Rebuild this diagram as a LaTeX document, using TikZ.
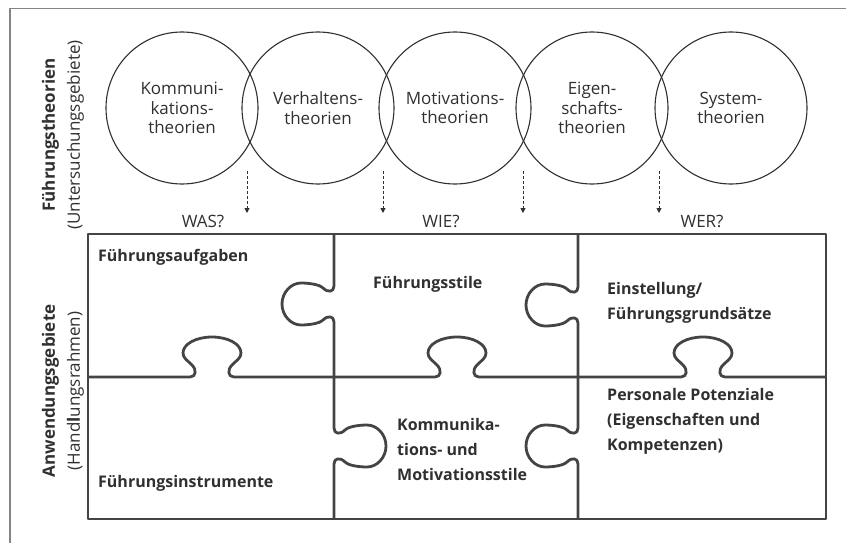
\documentclass[tikz,border=0pt]{standalone}
\usepackage{fontspec}
\setmainfont{Open Sans}
\usepackage{xcolor}
\usepackage{tikz}
\usetikzlibrary{arrows.meta}

\definecolor{ink}{HTML}{303030}
\definecolor{edge}{HTML}{444444}
\definecolor{rim}{HTML}{858585}

% jigsaw tab on a horizontal line, bulging upwards
\newcommand{\htab}[2]{%
  -- ({#1-22},#2)
  .. controls ({#1-16},#2) and ({#1-15},{#2-7}) .. ({#1-20},{#2-12})
  .. controls ({#1-25},{#2-17}) and ({#1-29},{#2-19}) .. ({#1-29},{#2-24})
  .. controls ({#1-29},{#2-33}) and ({#1-16},{#2-40}) .. (#1,{#2-40})
  .. controls ({#1+16},{#2-40}) and ({#1+29},{#2-33}) .. ({#1+29},{#2-24})
  .. controls ({#1+29},{#2-19}) and ({#1+25},{#2-17}) .. ({#1+20},{#2-12})
  .. controls ({#1+15},{#2-7}) and ({#1+16},#2) .. ({#1+22},#2)}

% jigsaw tab on a vertical line, #3 = -1 bulges left, 1 bulges right
\newcommand{\vtab}[3]{%
  -- (#1,{#2-18})
  .. controls (#1,{#2-12}) and ({#1+6*(#3)},{#2-11}) .. ({#1+11*(#3)},{#2-16})
  .. controls ({#1+15*(#3)},{#2-20}) and ({#1+27*(#3)},{#2-21}) .. ({#1+33*(#3)},{#2-21})
  .. controls ({#1+43*(#3)},{#2-21}) and ({#1+52*(#3)},{#2-11.5}) .. ({#1+52*(#3)},#2)
  .. controls ({#1+52*(#3)},{#2+11.5}) and ({#1+43*(#3)},{#2+21}) .. ({#1+33*(#3)},{#2+21})
  .. controls ({#1+27*(#3)},{#2+21}) and ({#1+15*(#3)},{#2+20}) .. ({#1+11*(#3)},{#2+16})
  .. controls ({#1+6*(#3)},{#2+11}) and (#1,{#2+12}) .. (#1,{#2+18})}

\begin{document}
\begin{tikzpicture}[x=1pt, y=-1pt,
  theory/.style={circle, draw=ink, line width=1.1pt, minimum size=152pt, inner sep=0pt, align=center, text=ink, font=\fontsize{17}{19.5}\selectfont},
  piecetext/.style={anchor=west, align=left, inner sep=0pt, text=ink, font=\bfseries\fontsize{16}{25}\selectfont},
  question/.style={text=ink, font=\fontsize{17}{20}\selectfont},
  side/.style={rotate=90, align=center, text=ink, font=\fontsize{17}{25}\selectfont},
  hint/.style={draw=ink, line width=0.9pt, dash pattern=on 3pt off 2pt, -{Triangle[length=5pt, width=5pt]}},
  piece/.style={draw=edge, line width=2.8pt, line join=round}]
\useasboundingbox (0,0) rectangle (846,543);
\draw[rim, line width=1.3pt] (10,543) -- (10,8.5) -- (846,8.5);

% theories
\node[theory] (komm) at (182,108) {Kommuni-\\kations-\\theorien};
\node[theory] (verh) at (318,108) {Verhaltens-\\theorien};
\node[theory] (moti) at (455,108) {Motivations-\\theorien};
\node[theory] (eig) at (592,108) {Eigen-\\schafts-\\theorien};
\node[theory] (sys) at (731,108) {System-\\theorien};

\node[side] (theo) at (63,135) {\textbf{Führungstheorien}\\(Untersuchungsgebiete)};
\node[side] (anw) at (63,391) {\textbf{Anwendungsgebiete}\\(Hand\textbf{l}ungsrahmen)};

% questions
\coordinate (h1s) at (247,171); \coordinate (h1e) at (247,213);
\coordinate (h2s) at (383,171); \coordinate (h2e) at (383,213);
\coordinate (h3s) at (523,171); \coordinate (h3e) at (523,213);
\coordinate (h4s) at (659,171); \coordinate (h4e) at (659,213);
\draw[hint] (h1s) -- (h1e);
\draw[hint] (h2s) -- (h2e);
\draw[hint] (h3s) -- (h3e);
\draw[hint] (h4s) -- (h4e);
\node[question] (was) at (203,221) {WAS?};
\node[question] (wie) at (441,221) {WIE?};
\node[question] (wer) at (702,221) {WER?};

% puzzle
\draw[piece] (88,234) rectangle (826,519);
\draw[piece] (88,377) \htab{212}{377} \htab{457}{377} \htab{703}{377} -- (826,377);
\draw[piece] (334,234) \vtab{334}{304}{-1} \vtab{334}{446}{1} -- (334,519);
\draw[piece] (578,234) \vtab{578}{305}{-1} \vtab{578}{446}{-1} -- (578,519);

\node[piecetext] (aufg) at (98,257) {Führungsaufgaben};
\node[piecetext] (stil) at (373,284) {Führungsstile};
\node[piecetext] (einst) at (607,303) {Einstellung/\\Führungsgrundsätze};
\node[piecetext] (komst) at (397,449) {Kommunika-\\tions- und\\Motivationsstile};
\node[piecetext] (pers) at (607,421) {Personale Potenziale\\(Eigenschaften und\\Kompetenzen)};
\node[piecetext] (instr) at (98,483) {Führungsinstrumente};
\end{tikzpicture}
\end{document}
